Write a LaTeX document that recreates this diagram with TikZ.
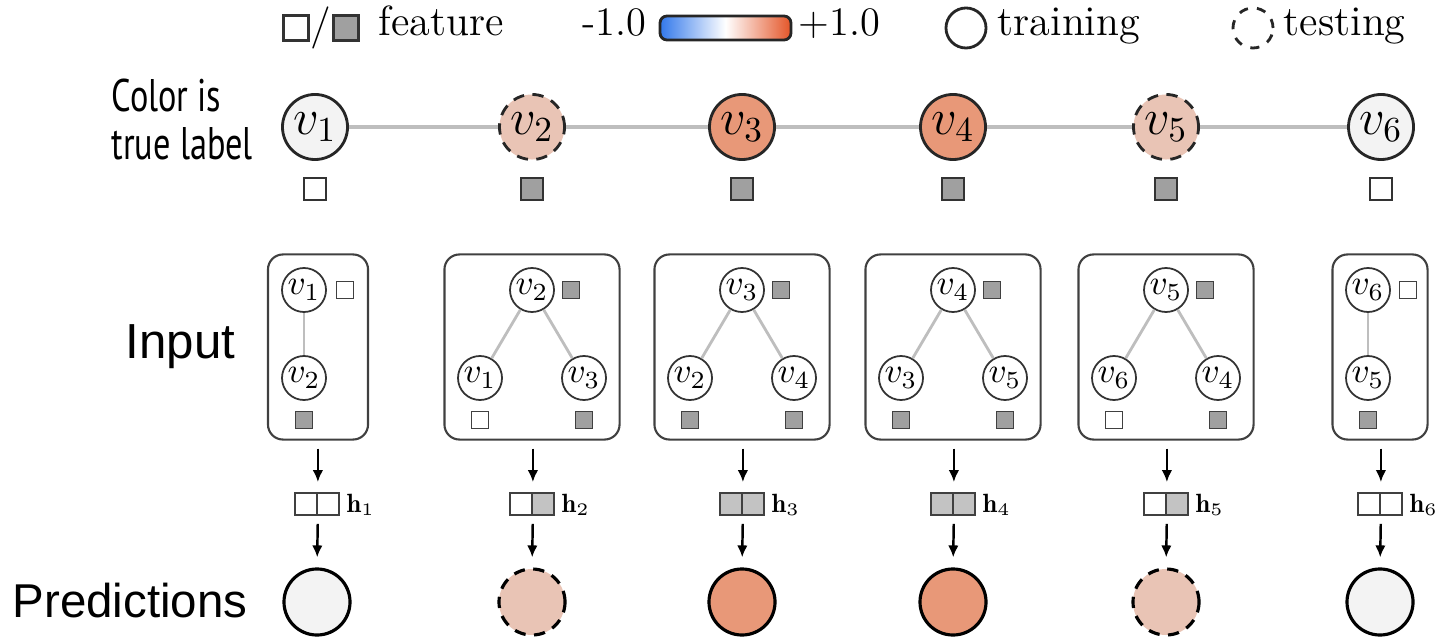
\documentclass[tikz,border=0pt]{standalone}
\usepackage{fontspec}
\newfontfamily\arialfont{Liberation Sans}
\newfontfamily\condfont[FakeStretch=0.75]{PT Sans}
\usetikzlibrary{arrows.meta}
\definecolor{lgray}{RGB}{243,243,243}
\definecolor{redd}{RGB}{232,152,120}
\definecolor{redl}{RGB}{233,196,181}
\definecolor{featg}{RGB}{160,160,160}
\definecolor{cellg}{RGB}{195,195,195}
\definecolor{edgeg}{RGB}{190,190,190}
\definecolor{cbblue}{RGB}{50,120,235}
\definecolor{cbred}{RGB}{228,85,40}
\begin{document}
\begin{tikzpicture}[x=0.01cm,y=-0.01cm,
 topnode/.style={circle,draw=black!85,line width=0.8pt,minimum size=0.65cm,inner sep=0pt,font=\fontsize{14}{16}\selectfont},
 testnode/.style={dash pattern=on 3.2pt off 2.4pt},
 inode/.style={circle,draw=black!80,line width=0.5pt,minimum size=0.44cm,inner sep=0pt,fill=white,font=\fontsize{10}{12}\selectfont},
 feat/.style={draw=black!75,line width=0.5pt,minimum size=0.17cm,inner sep=0pt},
 bigfeat/.style={draw=black!80,line width=0.6pt,minimum size=0.22cm,inner sep=0pt},
 legsq/.style={draw=black!80,line width=0.6pt,minimum size=0.25cm,inner sep=0pt},
 box/.style={draw=black!75,line width=0.6pt,rounded corners=0.15cm,minimum height=1.85cm,inner sep=0pt},
 cell/.style={draw=black!75,line width=0.5pt,minimum size=0.22cm,inner sep=0pt},
 hlab/.style={font=\fontsize{7.5}{9}\selectfont,anchor=west,inner sep=0pt},
 arr/.style={-{Latex[length=3.4pt,width=3pt]},line width=0.7pt,shorten <=0.08cm,shorten >=0.1cm},
 tedge/.style={draw=edgeg,line width=1.1pt},
 iedge/.style={draw=edgeg,line width=0.8pt},
 pred/.style={circle,draw=black,line width=0.9pt,minimum size=0.66cm,inner sep=0pt},
 legtext/.style={font=\fontsize{12}{14}\selectfont,inner sep=0pt},
 sidetext/.style={font=\arialfont\fontsize{14}{16}\selectfont,anchor=base west,inner sep=0pt},
 condtext/.style={font=\condfont\fontsize{13}{14}\selectfont,anchor=base west,inner sep=0pt}
]
\useasboundingbox (0,0) rectangle (1437,640);

% legend
\node[legsq,fill=white] (lw) at (296,28) {};
\node[legtext] (lsl) at (321,28) {/};
\node[legsq,fill=featg] (lgs) at (346,28) {};
\node[legtext,anchor=base west] (lft) at (378,36) {feature};
\node[legtext,anchor=base east,font=\fontsize{11.5}{14}\selectfont] (lmin) at (647,36) {-1.0};
\shadedraw[left color=cbblue,right color=cbred,middle color=white,rounded corners=0.07cm,draw=black!85,line width=0.8pt] (660,16) rectangle (791,40);
\node[legtext,anchor=base west,font=\fontsize{11.5}{14}\selectfont] (lmax) at (798,36) {+1.0};
\node[circle,draw=black!85,line width=0.8pt,minimum size=0.40cm,inner sep=0pt] (ltr) at (966,28) {};
\node[legtext,anchor=base west] (ltrt) at (997,36) {training};
\node[circle,draw=black!85,line width=0.8pt,minimum size=0.40cm,inner sep=0pt,dash pattern=on 2.6pt off 2.6pt] (lte) at (1253,28) {};
\node[legtext,anchor=base west] (ltet) at (1283,36) {testing};

% side labels
\node[condtext] (cl1) at (111,112) {Color is};
\node[condtext] (cl2) at (111,160) {true label};
\node[sidetext] (inp) at (125,358) {Input};
\node[sidetext,font=\arialfont\fontsize{13.5}{16}\selectfont] (prd) at (12,617) {Predictions};

% top row
\node[topnode,fill=lgray] (t1) at (315,127) {$v_1$};
\node[topnode,fill=redl,testnode] (t2) at (532,127) {$v_2$};
\node[topnode,fill=redd] (t3) at (742,127) {$v_3$};
\node[topnode,fill=redd] (t4) at (953,127) {$v_4$};
\node[topnode,fill=redl,testnode] (t5) at (1166,127) {$v_5$};
\node[topnode,fill=lgray] (t6) at (1381,127) {$v_6$};
\draw[tedge] (t1) -- (t2);
\draw[tedge] (t2) -- (t3);
\draw[tedge] (t3) -- (t4);
\draw[tedge] (t4) -- (t5);
\draw[tedge] (t5) -- (t6);
\node[bigfeat,fill=white] (f1) at (315,189) {};
\node[bigfeat,fill=featg] (f2) at (532,189) {};
\node[bigfeat,fill=featg] (f3) at (742,189) {};
\node[bigfeat,fill=featg] (f4) at (953,189) {};
\node[bigfeat,fill=featg] (f5) at (1166,189) {};
\node[bigfeat,fill=white] (f6) at (1381,189) {};

% box 1
\node[box,minimum width=1.0cm] (b1) at (318,347) {};
\node[inode] (b1t) at (304,290) {$v_1$};
\node[feat,fill=white] (b1tf) at (345,290) {};
\node[inode] (b1l) at (304,378) {$v_2$};
\node[feat,fill=featg] (b1lf) at (304,420) {};
\draw[iedge] (b1t) -- (b1l);

% box 6
\node[box,minimum width=0.95cm] (b6) at (1380,347) {};
\node[inode] (b6t) at (1368,290) {$v_6$};
\node[feat,fill=white] (b6tf) at (1408,290) {};
\node[inode] (b6l) at (1368,378) {$v_5$};
\node[feat,fill=featg] (b6lf) at (1368,420) {};
\draw[iedge] (b6t) -- (b6l);

% boxes 2-5
\foreach \i/\c/\vt/\vl/\vr/\ft/\fl/\fr in {2/532/2/1/3/featg/white/featg,3/742/3/2/4/featg/featg/featg,4/953/4/3/5/featg/featg/featg,5/1166/5/6/4/featg/white/featg}{
 \node[box,minimum width=1.75cm] (b\i) at (\c,347) {};
 \node[inode] (b\i t) at (\c,290) {$v_{\vt}$};
 \node[feat,fill=\ft] (b\i tf) at (\c+39,290) {};
 \node[inode] (b\i l) at (\c-52,378) {$v_{\vl}$};
 \node[inode] (b\i r) at (\c+52,378) {$v_{\vr}$};
 \node[feat,fill=\fl] (b\i lf) at (\c-52,420) {};
 \node[feat,fill=\fr] (b\i rf) at (\c+52,420) {};
 \draw[iedge] (b\i t) -- (b\i l);
 \draw[iedge] (b\i t) -- (b\i r);
}

% embeddings and predictions
\foreach \i/\c/\fa/\fb/\pf/\ps in {1/317/white/white/lgray/solid,2/532/white/cellg/redl/testnode,3/742/cellg/cellg/redd/solid,4/953/cellg/cellg/redd/solid,5/1166/white/cellg/redl/testnode,6/1380/white/white/lgray/solid}{
 \node[cell,fill=\fa] (h\i a) at (\c-11,504) {};
 \node[cell,fill=\fb] (h\i b) at (\c+11,504) {};
 \node[hlab] (h\i l) at (\c+29,505) {$\mathbf{h}_{\i}$};
 \node[pred,fill=\pf,\ps] (p\i) at (\c,602) {};
 \draw[arr] (b\i.south -| h\i a.east) -- (h\i a.north east);
 \draw[arr] (h\i a.south east) -- (p\i.north);
}
\end{tikzpicture}
\end{document}
